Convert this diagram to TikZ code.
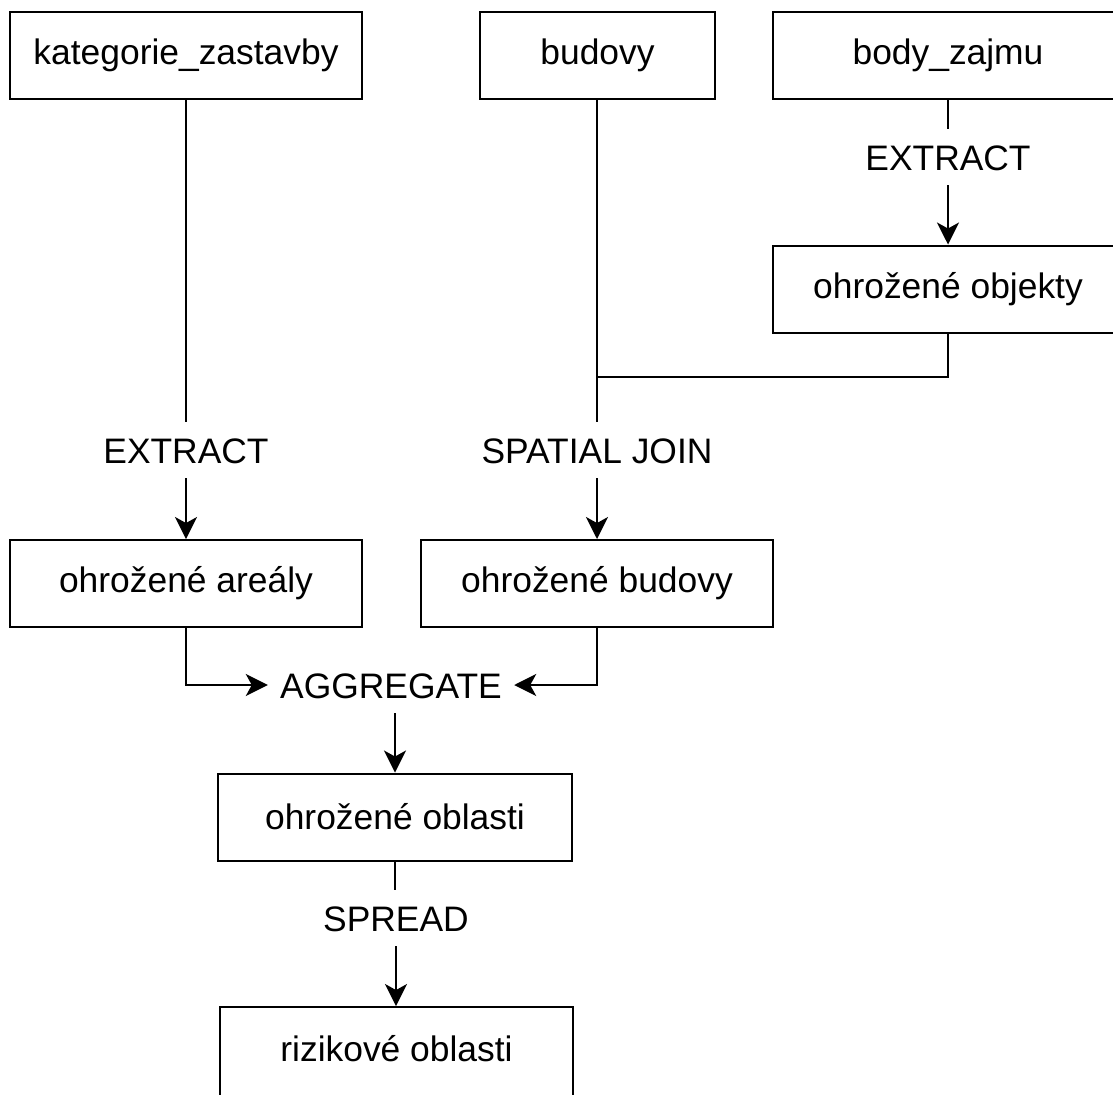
\documentclass[tikz,border=0pt]{standalone}
\usepackage{fontspec}
\setmainfont{Liberation Sans}
\usetikzlibrary{arrows.meta}
\begin{document}
\begin{tikzpicture}[x=0.5pt,y=-0.5pt,
  box/.style={draw,line width=1pt,minimum height=43.5pt,inner sep=0pt,font=\fontsize{17.7}{20}\selectfont},
  lbl/.style={inner ysep=0pt,inner xsep=6pt,minimum height=28pt,text height=13pt,text depth=0pt,font=\fontsize{17.7}{20}\selectfont},
  conn/.style={line width=1pt},
  arr/.style={line width=1pt,-{Stealth[length=11pt,width=11pt,inset=3pt]}}]
\useasboundingbox (0,0) rectangle (1113,1094);
% boxes
\node[box,minimum width=176pt] (kat) at (186,55.5) {kategorie\_zastavby};
\node[box,minimum width=117.5pt] (bud) at (597.5,55.5) {budovy};
\node[box,minimum width=175pt] (body) at (948,55.5) {body\_zajmu};
\node[box,minimum width=175pt] (obj) at (948,289) {ohrožené objekty};
\node[box,minimum width=176pt] (areal) at (186,583.5) {ohrožené areály};
\node[box,minimum width=176pt] (obud) at (597,583.5) {ohrožené budovy};
\node[box,minimum width=177pt] (obl) at (395,817) {ohrožené oblasti};
\node[box,minimum width=176.5pt,minimum height=47pt,text depth=6pt] (riz) at (396.5,1054) {rizikové oblasti};
% labels
\node[lbl] (ext1) at (186,450) {EXTRACT};
\node[lbl] (sj) at (597,450) {SPATIAL JOIN};
\node[lbl] (ext2) at (948,157) {EXTRACT};
\node[lbl] (agg) at (391,685) {AGGREGATE};
\node[lbl] (spr) at (396,918) {SPREAD};
\coordinate (J) at (597,377);
% connectors
\draw[conn] (kat.south) -- (ext1.north);
\draw[arr] (ext1.south) -- (areal.north);
\draw[conn] (bud.south -| J) -- (sj.north);
\draw[arr] (sj.south) -- (obud.north);
\draw[conn] (body.south) -- (ext2.north);
\draw[arr] (ext2.south) -- (obj.north);
\draw[conn] (obj.south) |- (J);
\draw[arr] (areal.south) |- (agg.west);
\draw[arr] (obud.south) |- (agg.east);
\draw[arr] (agg.south -| obl.north) -- (obl.north);
\draw[conn] (obl.south) -- (obl.south |- spr.north);
\draw[arr] (spr.south) -- (spr.south |- riz.north);
\end{tikzpicture}
\end{document}
